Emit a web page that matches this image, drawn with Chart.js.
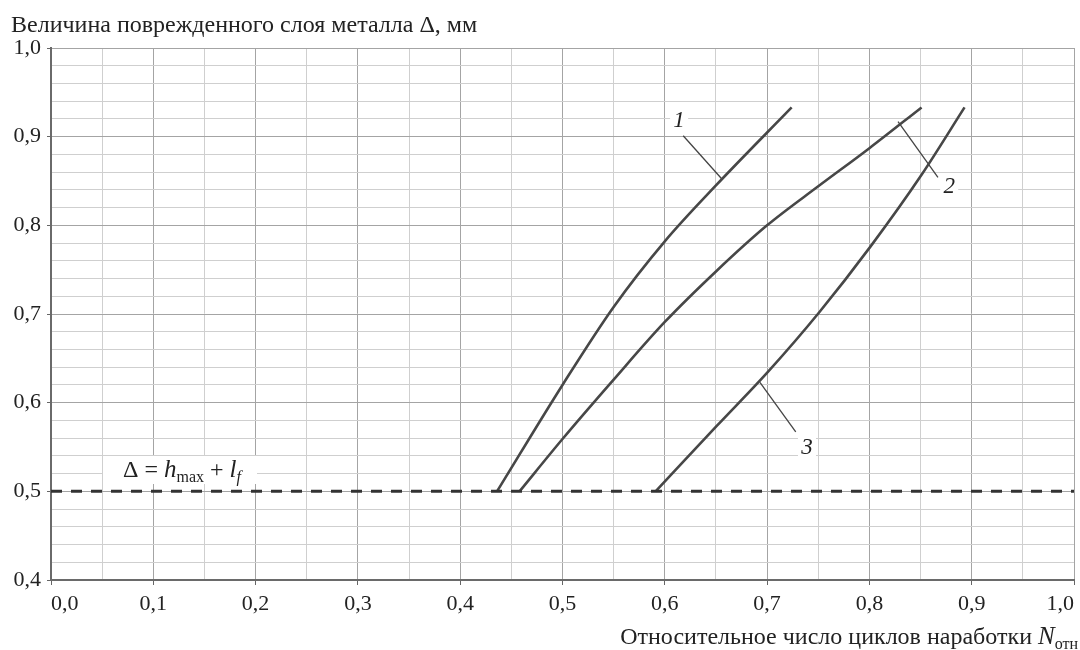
<!DOCTYPE html>
<html>
<head>
<meta charset="utf-8">
<script src="https://cdn.jsdelivr.net/npm/chart.js@4.4.1/dist/chart.umd.min.js"></script>
<style>
html,body{margin:0;padding:0;background:#fff;}
#wrap{width:1080px;height:650px;position:relative;}
</style>
</head>
<body>
<div id="wrap"><canvas id="c" width="1080" height="650"></canvas></div>
<script>
// ---- data ----
const curve1X = [0.436, 0.500, 0.550, 0.600, 0.650, 0.724];
const curve1Y = [0.500, 0.620, 0.708, 0.782, 0.845, 0.933];
const curve2X = [0.458, 0.500, 0.550, 0.600, 0.650, 0.700, 0.750, 0.800, 0.851];
const curve2Y = [0.500, 0.559, 0.626, 0.691, 0.748, 0.800, 0.844, 0.887, 0.933];
const curve3X = [0.591, 0.651, 0.701, 0.751, 0.801, 0.851, 0.893];
const curve3Y = [0.500, 0.574, 0.635, 0.702, 0.776, 0.857, 0.933];
const limitX = [0.0, 1.0];
const limitY = [0.5, 0.5];
const leader1X = [0.618, 0.656], leader1Y = [0.901, 0.852];
const leader2X = [0.828, 0.867], leader2Y = [0.917, 0.854];
const leader3X = [0.693, 0.728], leader3Y = [0.623, 0.567];
const curveLabels = ['1', '2', '3'];
const curveLabelX = [0.614, 0.878, 0.739];
const curveLabelY = [0.918, 0.843, 0.549];
const xTickValues = [0, 0.1, 0.2, 0.3, 0.4, 0.5, 0.6, 0.7, 0.8, 0.9, 1.0];
const yTickValues = [0.4, 0.5, 0.6, 0.7, 0.8, 0.9, 1.0];
const yTitle = 'Величина поврежденного слоя металла Δ, мм';
const xTitle = 'Относительное число циклов наработки ';
const xTitleVar = 'N';
const xTitleSub = 'отн';

const SERIF = '"Liberation Serif", "DejaVu Serif", serif';
const pts = (xs, ys) => xs.map((x, i) => ({x, y: ys[i]}));
const fmt = v => v.toFixed(1).replace('.', ',');
const isMajor = v => Math.round(v * 100) % 10 === 0;

const annot = {
  id: 'annot',
  beforeDatasetsDraw(chart) {
    const ctx = chart.ctx, xs = chart.scales.x, ys = chart.scales.y;
    ctx.save();
    ctx.fillStyle = '#fff';
    ctx.fillRect(103, 456, 154, 28);
    curveLabels.forEach((t, i) => {
      const px = xs.getPixelForValue(curveLabelX[i]);
      const py = ys.getPixelForValue(curveLabelY[i]);
      ctx.fillRect(px - 9, py - 11, 18, 22);
    });
    ctx.restore();
  },
  afterDatasetsDraw(chart) {
    const ctx = chart.ctx, xs = chart.scales.x, ys = chart.scales.y;
    ctx.save();
    ctx.fillStyle = '#222';
    ctx.textAlign = 'center';
    ctx.textBaseline = 'middle';
    ctx.font = 'italic 23px ' + SERIF;
    curveLabels.forEach((t, i) => {
      ctx.fillText(t, xs.getPixelForValue(curveLabelX[i]), ys.getPixelForValue(curveLabelY[i]));
    });
    ctx.textAlign = 'left';
    ctx.textBaseline = 'alphabetic';
    let x = 123, base = 477;
    const draw = (txt, font, dy) => {
      ctx.font = font;
      ctx.fillText(txt, x, base + (dy || 0));
      x += ctx.measureText(txt).width;
    };
    draw('Δ = ', '24px ' + SERIF);
    draw('h', 'italic 25px ' + SERIF);
    draw('max', '16px ' + SERIF, 5);
    draw(' + ', '24px ' + SERIF);
    draw('l', 'italic 25px ' + SERIF);
    draw('f', 'italic 16px ' + SERIF, 5);
    ctx.restore();
  },
  afterDraw(chart) {
    const ctx = chart.ctx;
    ctx.save();
    ctx.fillStyle = '#222';
    ctx.textBaseline = 'alphabetic';
    ctx.textAlign = 'left';
    ctx.font = '24px ' + SERIF;
    ctx.fillText(yTitle, 11, 32);
    ctx.font = '24px ' + SERIF;
    const w1 = ctx.measureText(xTitle).width;
    ctx.font = 'italic 25px ' + SERIF;
    const w2 = ctx.measureText(xTitleVar).width;
    ctx.font = '16px ' + SERIF;
    const w3 = ctx.measureText(xTitleSub).width;
    let x = 1078 - (w1 + w2 + w3);
    const base = 644;
    ctx.font = '24px ' + SERIF; ctx.fillText(xTitle, x, base); x += w1;
    ctx.font = 'italic 25px ' + SERIF; ctx.fillText(xTitleVar, x, base); x += w2;
    ctx.font = '16px ' + SERIF; ctx.fillText(xTitleSub, x, base + 5);
    ctx.restore();
  }
};

const curveStyle = {
  showLine: true, pointRadius: 0, borderColor: '#474747', borderWidth: 2.6,
  cubicInterpolationMode: 'monotone', fill: false
};
const leaderStyle = {
  showLine: true, pointRadius: 0, borderColor: '#444', borderWidth: 1.3, tension: 0, fill: false
};

new Chart(document.getElementById('c'), {
  type: 'scatter',
  data: {
    datasets: [
      {label: 'limit', data: pts(limitX, limitY), showLine: true, pointRadius: 0,
       borderColor: '#333', borderWidth: 3, borderDash: [11, 9], tension: 0},
      {label: '1', data: pts(curve1X, curve1Y), ...curveStyle},
      {label: '2', data: pts(curve2X, curve2Y), ...curveStyle},
      {label: '3', data: pts(curve3X, curve3Y), ...curveStyle},
      {label: 'l1', data: pts(leader1X, leader1Y), ...leaderStyle},
      {label: 'l2', data: pts(leader2X, leader2Y), ...leaderStyle},
      {label: 'l3', data: pts(leader3X, leader3Y), ...leaderStyle}
    ]
  },
  options: {
    responsive: false,
    animation: false,
    events: [],
    layout: {padding: {top: 48, left: 0, right: 4, bottom: 0}},
    plugins: {legend: {display: false}, tooltip: {enabled: false}, title: {display: false}},
    scales: {
      x: {
        type: 'linear', min: 0, max: 1,
        afterFit: s => { s.height = 70; },
        ticks: {
          stepSize: 0.05, autoSkip: false, maxRotation: 0, align: 'inner',
          padding: 6, color: '#222',
          font: {family: SERIF, size: 22},
          callback: v => isMajor(v) && xTickValues.some(t => Math.abs(t - v) < 1e-6) ? fmt(v) : ''
        },
        grid: {
          color: c => isMajor(c.tick.value) ? '#a4a4a4' : '#cfcfcf',
          tickColor: c => isMajor(c.tick.value) ? '#666' : 'rgba(0,0,0,0)',
          tickLength: 5, lineWidth: 1
        },
        border: {color: '#6a6a6a', width: 2}
      },
      y: {
        type: 'linear', min: 0.4, max: 1.0,
        afterFit: s => { s.width = 51; },
        ticks: {
          stepSize: 0.02, autoSkip: false, padding: 6, color: '#222',
          font: {family: SERIF, size: 22},
          callback: v => isMajor(v) && yTickValues.some(t => Math.abs(t - v) < 1e-6) ? fmt(v) : ''
        },
        grid: {
          color: c => isMajor(c.tick.value) ? '#a4a4a4' : '#cfcfcf',
          tickColor: c => isMajor(c.tick.value) ? '#666' : 'rgba(0,0,0,0)',
          tickLength: 4, lineWidth: 1
        },
        border: {color: '#6a6a6a', width: 2}
      }
    }
  },
  plugins: [annot]
});
</script>
</body>
</html>
